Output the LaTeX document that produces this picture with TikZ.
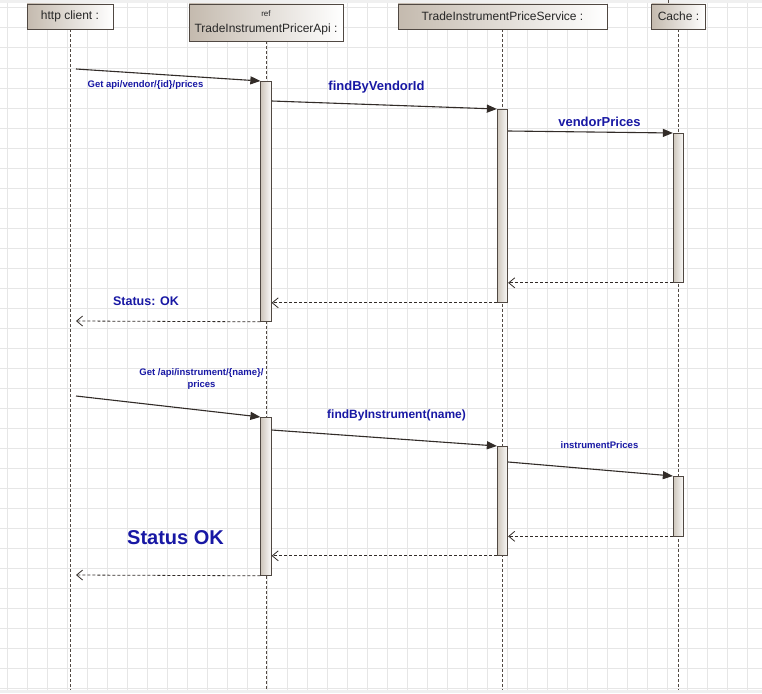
\documentclass[tikz,border=0pt]{standalone}
\usepackage{fontspec}
\setmainfont{Liberation Sans}
\usetikzlibrary{arrows.meta}
\definecolor{msgblue}{RGB}{24,24,164}
\definecolor{headtan}{RGB}{196,186,174}
\definecolor{bartan}{RGB}{206,198,188}
\definecolor{edgegray}{RGB}{80,72,66}
\definecolor{gridgray}{RGB}{230,230,230}
\definecolor{linedark}{RGB}{50,44,40}
\begin{document}
\begin{tikzpicture}[x=1pt, y=-1pt,
    head/.style={draw=edgegray, line width=0.8pt, left color=headtan, right color=white, inner sep=0pt, font=\fontsize{12}{14}\selectfont, text=black!85, align=center},
    bar/.style={draw=edgegray, line width=0.8pt, left color=bartan, right color=white!92!bartan, minimum width=10.5, inner sep=0pt, anchor=north},
    life/.style={edgegray, line width=0.8pt, dash pattern=on 3pt off 2pt},
    call/.style={linedark, line width=1.1pt, -{Triangle[length=10pt,width=8pt]}},
    back/.style={linedark, line width=0.8pt, dash pattern=on 3pt off 2pt, -{Straight Barb[length=6pt,width=10pt]}},
    lbl/.style={text=msgblue, font=\bfseries\fontsize{13}{15}\selectfont},
    small/.style={text=msgblue, font=\bfseries\fontsize{9.5}{11.5}\selectfont, align=center}]
  \useasboundingbox (0,0) rectangle (762,693);
  \fill[white] (0,0) rectangle (762,693);
  \fill[black!6] (0,0) rectangle (762,3);
  \fill[black!6] (0,690) rectangle (762,693);
  \foreach \x in {7,27,...,747} \draw[gridgray, line width=1pt] (\x,3) -- (\x,690);
  \foreach \y in {8,28,...,688} \draw[gridgray, line width=1pt] (0,\y) -- (762,\y);
  \draw[edgegray, line width=0.8pt] (668,0) -- (668,4);

  \node[head, minimum width=86, minimum height=25] (client) at (70,16.5) {http client :};
  \node[head, minimum width=154, minimum height=37] (api) at (266,22.5) {{\fontsize{8}{9}\selectfont ref}\\[2pt]TradeInstrumentPricerApi :};
  \node[head, minimum width=209, minimum height=25] (service) at (502.5,16.5) {TradeInstrumentPriceService :};
  \node[head, minimum width=54, minimum height=25] (cache) at (678.5,16.5) {Cache :};
  \foreach \n in {client,api,service,cache}
    \draw[life] (\n.south) -- (\n.south |- 0,690);

  \node[bar, minimum height=240] (apiA) at (266,81) {};
  \node[bar, minimum height=193] (svcA) at (502.5,109) {};
  \node[bar, minimum height=149] (cacheA) at (678.5,133) {};
  \node[bar, minimum height=158] (apiB) at (266,417) {};
  \node[bar, minimum height=109] (svcB) at (502.5,446) {};
  \node[bar, minimum height=59.5] (cacheB) at (678.5,476) {};

  \coordinate (in1) at (76,69);
  \coordinate (out1) at (76,321);
  \coordinate (in2) at (76,396);
  \coordinate (out2) at (76,575);

  \draw[call] (in1) -- (apiA.north west);
  \draw[call] ([yshift=-20pt]apiA.north east) -- (svcA.north west);
  \draw[call] ([yshift=-22pt]svcA.north east) -- (cacheA.north west);
  \draw[back] (cacheA.south west) -- (svcA.east |- cacheA.south west);
  \draw[back] (svcA.south west) -- (apiA.east |- svcA.south west);
  \draw[back] (apiA.south west) -- (out1);

  \draw[call] (in2) -- (apiB.north west);
  \draw[call] ([yshift=-13pt]apiB.north east) -- (svcB.north west);
  \draw[call] ([yshift=-16pt]svcB.north east) -- (cacheB.north west);
  \draw[back] (cacheB.south west) -- (svcB.east |- cacheB.south west);
  \draw[back] (svcB.south west) -- (apiB.east |- svcB.south west);
  \draw[back] (apiB.south west) -- (out2);

  \node[small] (getVendor) at (145.5,85) {Get api/vendor/\{id\}/prices};
  \node[lbl] (byVendor) at (376.5,87) {findByVendorId};
  \node[lbl] (vendorPr) at (599.5,121.5) {vendorPrices};
  \node[lbl, font=\bfseries\fontsize{12.5}{15}\selectfont] (statusA) at (146,301) {Status: OK};
  \node[small] (getInstr) at (201.5,379) {Get /api/instrument/\{name\}/\\prices};
  \node[lbl, font=\bfseries\fontsize{12}{14}\selectfont] (byInstr) at (396.5,415) {findByInstrument(name)};
  \node[small] (instrPr) at (599.5,445.5) {instrumentPrices};
  \node[lbl, font=\bfseries\fontsize{20}{24}\selectfont] (statusB) at (175.5,538) {Status OK};
\end{tikzpicture}
\end{document}
